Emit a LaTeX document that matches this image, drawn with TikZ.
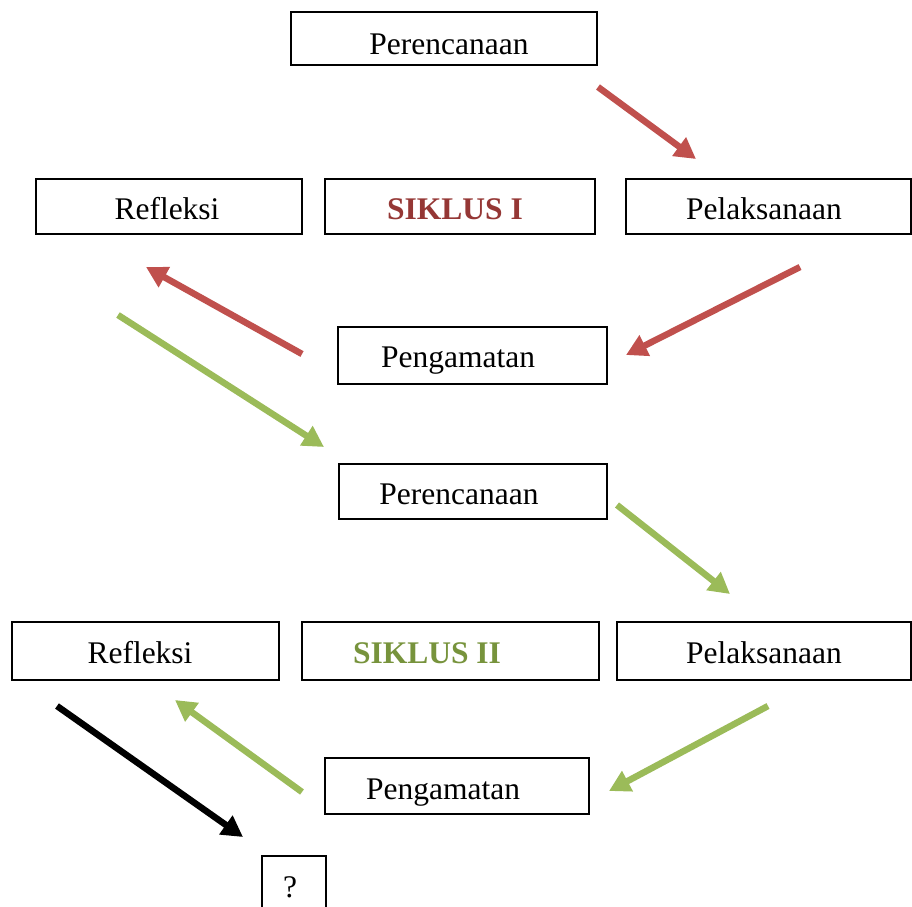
\documentclass[tikz,border=0pt]{standalone}
\usepackage{fontspec}
\setmainfont{Liberation Serif}
\usetikzlibrary{arrows.meta}
\definecolor{arrred}{HTML}{C0504D}
\definecolor{arrgreen}{HTML}{9BBB59}
\definecolor{txtred}{HTML}{953735}
\definecolor{txtgreen}{HTML}{77933C}
\tikzset{
  box/.style={draw=black, line width=1.5pt, inner sep=0pt},
  lbl/.style={anchor=base, inner sep=0pt, font=\fontsize{31.5}{36}\selectfont},
  arr/.style={line width=6.5pt, -{Triangle[length=21pt,width=22pt]}},
}
\begin{document}
\begin{tikzpicture}[x=1pt,y=-1pt]
\clip (0,0) rectangle (912,906);
% boxes
\node[box, minimum width=306pt, minimum height=53pt] (b1) at (444,38.5) {};
\node[box, minimum width=266pt, minimum height=55pt] (b2) at (169,206.5) {};
\node[box, minimum width=270pt, minimum height=55pt] (b3) at (460,206.5) {};
\node[box, minimum width=285pt, minimum height=55pt] (b4) at (768.5,206.5) {};
\node[box, minimum width=269pt, minimum height=57pt] (b5) at (472.5,355.5) {};
\node[box, minimum width=268pt, minimum height=55pt] (b6) at (473,491.5) {};
\node[box, minimum width=267pt, minimum height=58pt] (b7) at (145.5,651) {};
\node[box, minimum width=297pt, minimum height=58pt] (b8) at (450.5,651) {};
\node[box, minimum width=294pt, minimum height=58pt] (b9) at (764,651) {};
\node[box, minimum width=264pt, minimum height=56pt] (b10) at (457,786) {};
\node[box, minimum width=64pt, minimum height=80pt] (b11) at (294,896) {};
% labels
\node[lbl] (t1) at (449,54) {Perencanaan};
\node[lbl] (t2) at (167,219) {Refleksi};
\node[lbl, text=txtred, font=\fontsize{31.5}{36}\selectfont\bfseries] (t3) at (455,219) {SIKLUS I};
\node[lbl] (t4) at (764,219) {Pelaksanaan};
\node[lbl] (t5) at (458,367) {Pengamatan};
\node[lbl] (t6) at (459,504) {Perencanaan};
\node[lbl] (t7) at (140,663) {Refleksi};
\node[lbl, text=txtgreen, font=\fontsize{31.5}{36}\selectfont\bfseries] (t8) at (427,663) {SIKLUS II};
\node[lbl] (t9) at (764,663) {Pelaksanaan};
\node[lbl] (t10) at (443,799) {Pengamatan};
\node[lbl] (t11) at (290,897) {?};
% arrow end points
\coordinate (a1s) at (598,87);  \coordinate (a1e) at (696,159);
\coordinate (a2s) at (800,267); \coordinate (a2e) at (626,355);
\coordinate (a3s) at (302,354); \coordinate (a3e) at (146,267);
\coordinate (a4s) at (118,315); \coordinate (a4e) at (324,447);
\coordinate (a5s) at (617,505); \coordinate (a5e) at (730,594);
\coordinate (a6s) at (768,706); \coordinate (a6e) at (609,791);
\coordinate (a7s) at (302,792); \coordinate (a7e) at (175,700);
\coordinate (a8s) at (57,706);  \coordinate (a8e) at (243,837);
\draw[arr, arrred] (a1s) -- (a1e);
\draw[arr, arrred] (a2s) -- (a2e);
\draw[arr, arrred] (a3s) -- (a3e);
\draw[arr, arrgreen] (a4s) -- (a4e);
\draw[arr, arrgreen] (a5s) -- (a5e);
\draw[arr, arrgreen] (a6s) -- (a6e);
\draw[arr, arrgreen] (a7s) -- (a7e);
\draw[arr, black] (a8s) -- (a8e);
\end{tikzpicture}
\end{document}
